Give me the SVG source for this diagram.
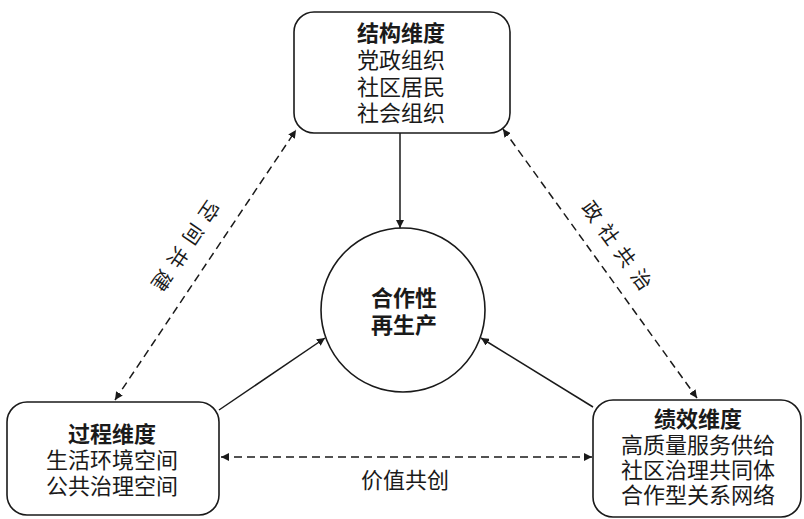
<svg xmlns="http://www.w3.org/2000/svg" width="804" height="519" viewBox="0 0 804 519">
<style>
.box{fill:#fff;stroke:#1a1a1a;stroke-width:1.6}
.t{font-family:"Liberation Serif","Noto Sans CJK SC",serif;font-size:22px;fill:#1a1a1a;text-anchor:middle}
.b{font-weight:bold}
.solid{stroke:#1a1a1a;stroke-width:1.5;fill:none}
.dash{stroke:#1a1a1a;stroke-width:1.5;fill:none;stroke-dasharray:8 5}
.lab{font-family:"Liberation Serif","Noto Sans CJK SC",serif;font-size:20px;fill:#1a1a1a;text-anchor:middle;dominant-baseline:central;letter-spacing:8px}
</style>
<defs>
<marker id="ah" viewBox="0 0 10 10" refX="10" refY="5" markerWidth="8" markerHeight="8" markerUnits="userSpaceOnUse" orient="auto-start-reverse">
<path d="M0,0 L10,5 L0,10 Z" fill="#1a1a1a"/>
</marker>
</defs>
<rect width="804" height="519" fill="#fff"/>
<g id="connectors">
<line class="solid" x1="400" y1="133" x2="400" y2="228" marker-end="url(#ah)"/>
<line class="solid" x1="219" y1="410" x2="325" y2="338" marker-end="url(#ah)"/>
<line class="solid" x1="593" y1="407" x2="481" y2="338" marker-end="url(#ah)"/>
<line class="dash" x1="115" y1="400" x2="296" y2="130" marker-start="url(#ah)" marker-end="url(#ah)"/>
<line class="dash" x1="503" y1="129" x2="697" y2="398" marker-start="url(#ah)" marker-end="url(#ah)"/>
<line class="dash" x1="221" y1="457" x2="592" y2="457" marker-start="url(#ah)" marker-end="url(#ah)"/>
<text class="lab" transform="translate(183,249) rotate(124)">空间共建</text>
<text class="lab" transform="translate(619,249) rotate(54)">政社共治</text>
<text class="t" x="405" y="488">价值共创</text>
</g>
<g id="structure">
<rect class="box" x="294" y="12" width="216" height="121" rx="20"/>
<text class="t b" x="401" y="41">结构维度</text>
<text class="t" x="401" y="68">党政组织</text>
<text class="t" x="401" y="95">社区居民</text>
<text class="t" x="401" y="121">社会组织</text>
</g>
<g id="center">
<circle class="box" cx="403" cy="310" r="82"/>
<text class="t b" x="404" y="306">合作性</text>
<text class="t b" x="404" y="333">再生产</text>
</g>
<g id="process">
<rect class="box" x="7" y="402" width="212" height="113" rx="20"/>
<text class="t b" x="112" y="442">过程维度</text>
<text class="t" x="112" y="468">生活环境空间</text>
<text class="t" x="112" y="494">公共治理空间</text>
</g>
<g id="performance">
<rect class="box" x="593" y="400" width="208" height="117" rx="20"/>
<text class="t b" x="698" y="427">绩效维度</text>
<text class="t" x="698" y="453">高质量服务供给</text>
<text class="t" x="698" y="478">社区治理共同体</text>
<text class="t" x="698" y="503">合作型关系网络</text>
</g>
</svg>
